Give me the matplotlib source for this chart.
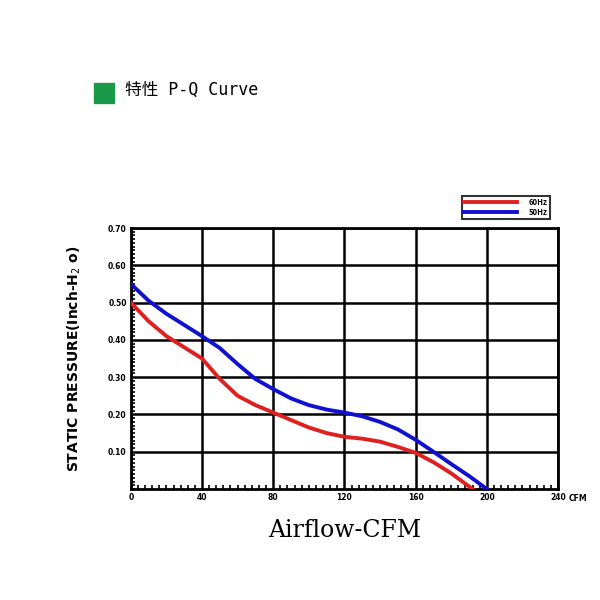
import matplotlib
matplotlib.use("Agg")
import matplotlib.pyplot as plt
from matplotlib.patches import Rectangle
import numpy as np

cfm_60 = [0, 10, 20, 30, 40, 50, 60, 70, 80, 90, 100, 110, 120, 130, 140, 150, 160, 170, 180, 192]
p_60 = [0.50, 0.45, 0.41, 0.38, 0.35, 0.295, 0.25, 0.225, 0.205, 0.185, 0.165, 0.15, 0.14, 0.135, 0.127, 0.113, 0.097, 0.072, 0.042, 0.0]
cfm_50 = [0, 10, 20, 30, 40, 50, 60, 70, 80, 90, 100, 110, 120, 130, 140, 150, 160, 170, 180, 190, 200]
p_50 = [0.55, 0.505, 0.47, 0.44, 0.41, 0.378, 0.335, 0.295, 0.268, 0.243, 0.225, 0.213, 0.205, 0.195, 0.18, 0.16, 0.132, 0.10, 0.067, 0.035, 0.0]
xticks = [0, 40, 80, 120, 160, 200, 240]
yticks = [0.10, 0.20, 0.30, 0.40, 0.50, 0.60, 0.70]

plt.rcParams['font.family'] = ['Noto Sans CJK SC', 'DejaVu Sans']
fig = plt.figure(figsize=(6, 6), dpi=100)
ax = fig.add_axes([0.218, 0.185, 0.712, 0.435])
ax.plot(cfm_60, p_60, color='#e02020', lw=2.8, label='60Hz', zorder=3, solid_joinstyle='round')
ax.plot(cfm_50, p_50, color='#1010d0', lw=2.8, label='50Hz', zorder=3, solid_joinstyle='round')
ax.set_xlim(0, 240)
ax.set_ylim(0, 0.70)
ax.set_xticks(xticks)
ax.set_xticklabels([str(v) for v in xticks], fontsize=5.5, fontweight='bold', family='DejaVu Sans')
ax.set_yticks(yticks)
ax.set_yticklabels(['%.2f' % v for v in yticks], fontsize=5.5, fontweight='bold', family='DejaVu Sans')
ax.set_xticks(np.arange(0, 241, 4), minor=True)
ax.set_yticks(np.arange(0, 0.701, 0.01), minor=True)
ax.tick_params(which='both', direction='in', length=0, pad=3)
ax.tick_params(which='minor', length=3, width=1.2)
ax.grid(True, which='major', color='black', lw=1.8)
for s in ax.spines.values():
    s.set_linewidth(2)
ax.text(1.025, -0.02, 'CFM', transform=ax.transAxes, fontsize=5.5, fontweight='bold', va='top', family='DejaVu Sans')
ax.set_ylabel('STATIC PRESSURE(Inch-H$_2$ o)', fontsize=10, fontweight='bold', family='DejaVu Sans', labelpad=18)
ax.set_xlabel('Airflow-CFM', fontsize=17, family='DejaVu Serif', labelpad=12)
leg = ax.legend(loc='lower right', bbox_to_anchor=(0.99, 1.02), fontsize=5.5, frameon=True, fancybox=False,
                edgecolor='black', handlelength=7, borderpad=0.3, labelspacing=0.1, handletextpad=1.5)
leg.get_frame().set_linewidth(1.5)
for t in leg.get_texts():
    t.set_fontweight('bold')
fig.patches.append(Rectangle((94/600, 1-103/600), 20/600, 20/600, transform=fig.transFigure, color='#1a9a48'))
fig.text(125/600, 1-90/600, '特性 P-Q Curve', fontsize=12, va='center',
         family=['DejaVu Sans Mono', 'Noto Sans CJK SC'])
fig.savefig('out.png', dpi=100)
